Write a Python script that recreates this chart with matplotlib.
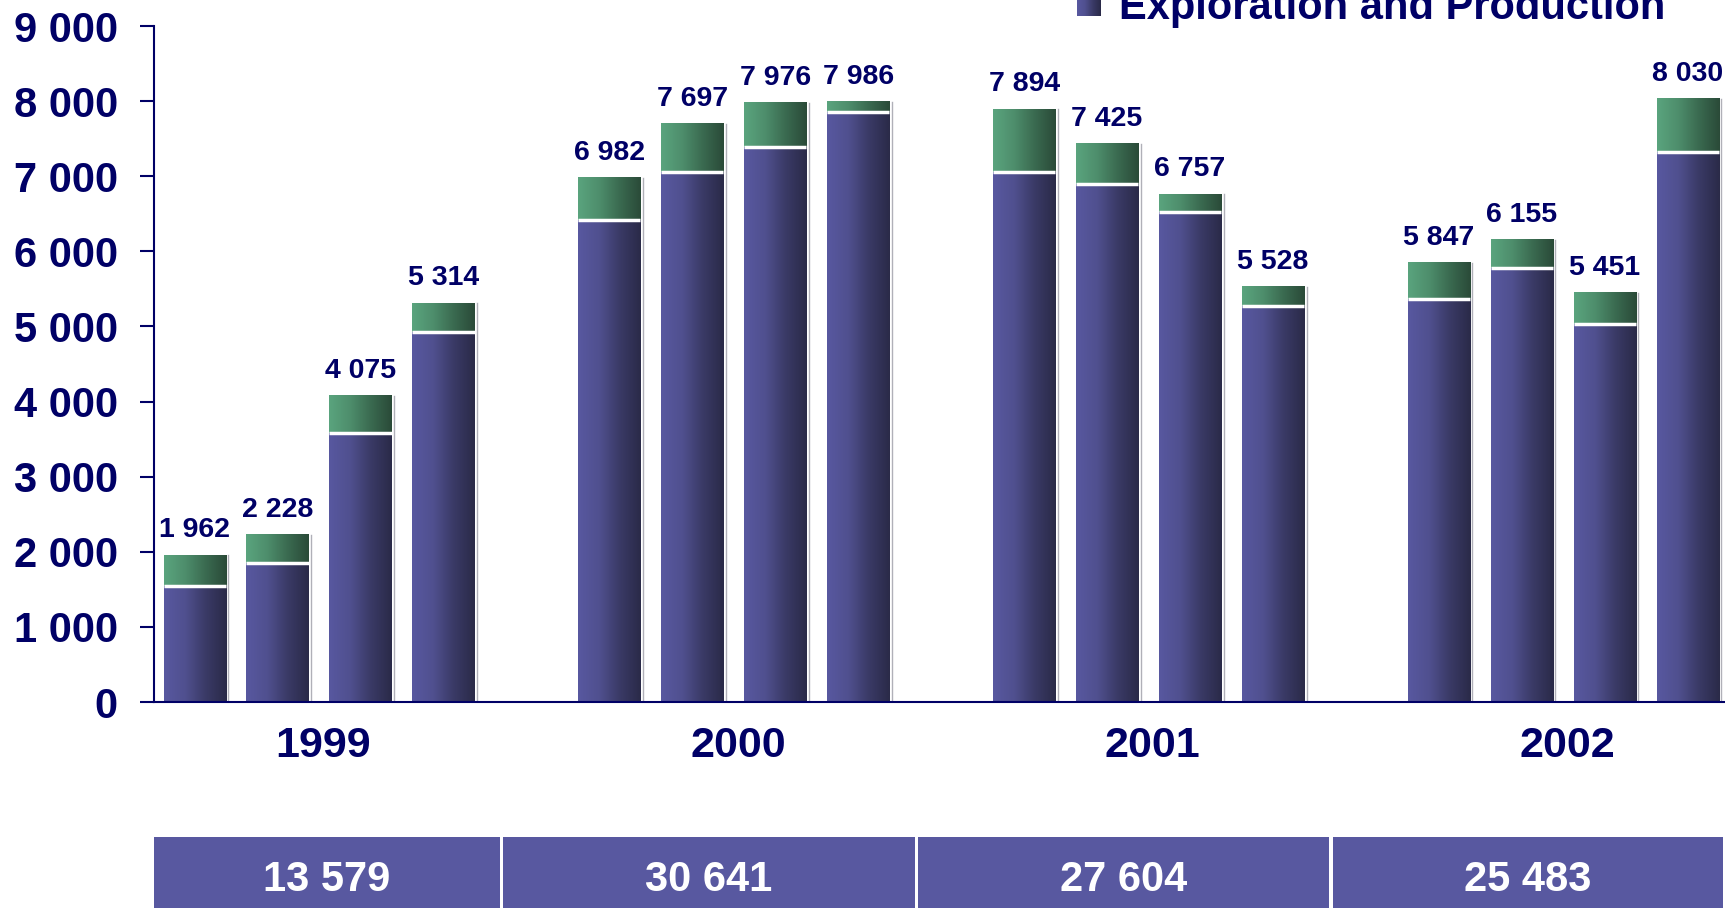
import matplotlib
matplotlib.use('Agg')
import matplotlib.pyplot as plt
import numpy as np
from matplotlib import font_manager
from matplotlib.colors import LinearSegmentedColormap
from matplotlib.patches import Rectangle

# quarterly figures, four quarters per year
years = ['1999', '2000', '2001', '2002']
exploration = [1550, 1850, 3580, 4930,
               6420, 7050, 7390, 7850,
               7060, 6890, 6520, 5270,
               5360, 5780, 5030, 7320]
other = [412, 378, 495, 384,
         562, 647, 586, 136,
         834, 535, 237, 258,
         487, 375, 421, 710]
yticks = [0, 1000, 2000, 3000, 4000, 5000, 6000, 7000, 8000, 9000]

navy = '#000066'
box_col = '#5858a0'
purple_map = LinearSegmentedColormap.from_list('pp', ['#5858a0', '#50508f', '#3a3a66', '#2a2a48'])
green_map = LinearSegmentedColormap.from_list('gg', ['#5aa47e', '#4e8e6c', '#3a6a50', '#2a4a38'])

# narrow face for the bar values if there is one, else plain bold at a smaller size
installed = set(f.name for f in font_manager.fontManager.ttflist)
narrow = None
for name in ('Liberation Sans Narrow', 'Arial Narrow', 'DejaVu Sans Condensed'):
    if name in installed:
        narrow = name
        break
if narrow == 'Liberation Sans Narrow' or narrow == 'Arial Narrow':
    val_font, val_size = narrow, 22
elif narrow:
    val_font, val_size = narrow, 18
else:
    val_font, val_size = 'Liberation Sans', 20.5

def fmt(v):
    return '{:,}'.format(v).replace(',', ' ')

# one empty slot between years
xpos = []
for g in range(len(years)):
    for q in range(4):
        xpos.append(g * 5 + q)
xpos = np.array(xpos, dtype=float)
exploration = np.array(exploration)
other = np.array(other)
totals = exploration + other

fig = plt.figure(figsize=(17.25, 9.08), dpi=100)
ax = fig.add_axes([154/1725, 1 - 702/908, 1 - 154/1725, 676/908])

w = 0.75
b1 = ax.bar(xpos, exploration, width=w, color='none', edgecolor='none')
b2 = ax.bar(xpos, other, width=w, bottom=exploration, color='none', edgecolor='none')

grad = np.linspace(0, 1, 256).reshape(1, -1)
for bars, cmap in ((b1, purple_map), (b2, green_map)):
    for p in bars:
        x0, y0 = p.get_x(), p.get_y()
        ax.imshow(grad, cmap=cmap, extent=[x0, x0 + p.get_width(), y0, y0 + p.get_height()],
                  aspect='auto', interpolation='bilinear', zorder=2)

# white gap between the two parts and a faint shadow on the right edge
for i in range(len(xpos)):
    ax.plot([xpos[i] - w/2, xpos[i] + w/2], [exploration[i], exploration[i]],
            color='white', lw=2.5, zorder=3, solid_capstyle='butt')
    ax.plot([xpos[i] + w/2 + 0.03, xpos[i] + w/2 + 0.03], [0, totals[i]],
            color='#b0b0b8', lw=1, zorder=1)
    ax.annotate(fmt(totals[i]), (xpos[i], totals[i]), xytext=(0, 13), textcoords='offset points',
                ha='center', va='baseline', fontsize=val_size, fontweight='bold', color=navy,
                family=val_font)

ax.set_xlim(-0.49, 18.45)
ax.set_ylim(0, 9000)

ax.set_yticks(yticks)
ax.set_yticklabels([fmt(t) for t in yticks])
ax.tick_params(axis='y', length=10, width=1.5, color=navy, pad=16, labelsize=30, labelcolor=navy)
for lab in ax.get_yticklabels():
    lab.set_fontweight('bold')
    lab.set_family('Liberation Sans')
ax.set_xticks([])
for s in ('top', 'right'):
    ax.spines[s].set_visible(False)
for s in ('left', 'bottom'):
    ax.spines[s].set_color(navy)
    ax.spines[s].set_linewidth(1.5)

# year labels and yearly totals underneath
trans = ax.get_xaxis_transform()
edges = [-0.49, 3.7, 8.7, 13.7, 18.45]
for g, yr in enumerate(years):
    ax.text(g * 5 + 1.55, -0.0814, yr, transform=trans, ha='center', va='baseline',
            fontsize=31, fontweight='bold', color=navy, family='Liberation Sans')
    left = edges[g] + (0.02 if g > 0 else 0)
    right = edges[g + 1] - 0.02
    ax.add_patch(Rectangle((left, -0.31), right - left, 0.31 - 0.1997, transform=trans,
                           facecolor=box_col, edgecolor='none', clip_on=False))
    ax.text((left + right) / 2, -0.2796, fmt(int(totals[g*4:g*4+4].sum())), transform=trans,
            ha='center', va='baseline', fontsize=30, fontweight='bold', color='white',
            family='Liberation Sans')

# legend entry, cut by the top edge
fig.text(1119/1725, 1 - 18.5/908, 'Exploration and Production', ha='left', va='baseline',
         fontsize=30, fontweight='bold', color=navy, family='Liberation Sans')
lax = fig.add_axes([1077/1725, 1 - 16/908, 24/1725, 24/908])
lax.imshow(grad, cmap=purple_map, aspect='auto')
lax.axis('off')

fig.savefig('out.png', dpi=100)
